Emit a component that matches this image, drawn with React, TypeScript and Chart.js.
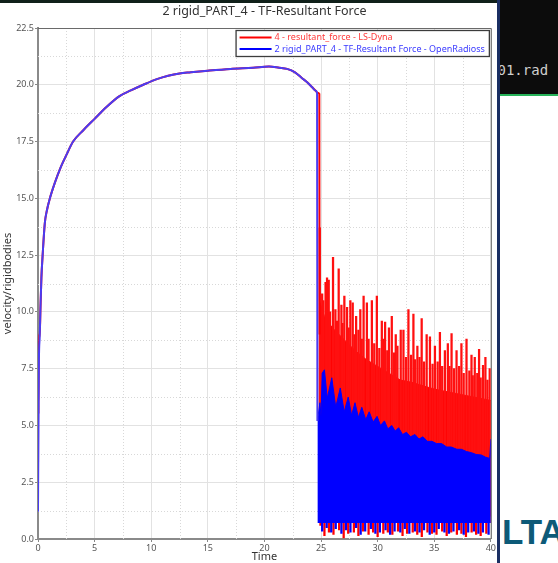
import React, { useEffect, useRef } from 'react';
import { Chart, registerables } from 'chart.js';

Chart.register(...registerables);

const FAMILY = "'Noto Sans', 'DejaVu Sans', sans-serif";

const TITLE = '2 rigid_PART_4 - TF-Resultant Force';
const X_TITLE = 'Time';
const Y_TITLE = 'velocity/rigidbodies';
const SERIES_NAMES = ['4 - resultant_force - LS-Dyna', '2 rigid_PART_4 - TF-Resultant Force - OpenRadioss'];

const X_TICKS = [0, 5, 10, 15, 20, 25, 30, 35, 40];
const X_MINOR = [2.5, 7.5, 12.5, 17.5, 22.5, 27.5, 32.5, 37.5];
const Y_TICKS = [0, 2.5, 5, 7.5, 10, 12.5, 15, 17.5, 20, 22.5];
const Y_MINOR = [1.25, 3.75, 6.25, 8.75, 11.25, 13.75, 16.25, 18.75, 21.25];

// Loading phase – OpenRadioss (blue)
const blueRampT = [0, 0.03, 0.08, 0.15, 0.22, 0.3, 0.41, 0.6, 0.8, 1.05, 1.5, 1.95, 2.5, 3.1, 4.0, 5.0, 6.0, 7.2, 8.2, 9.3, 10.5, 11.5, 12.5, 13.5, 15.0, 17.0, 19.0, 20.4, 21.3, 22.0, 22.7, 23.3, 23.8, 24.2, 24.5, 24.65, 24.68];
const blueRampV = [1.2, 4.0, 7.8, 8.9, 10.2, 11.5, 12.5, 13.9, 14.5, 15.0, 15.7, 16.3, 16.9, 17.5, 18.0, 18.5, 19.0, 19.5, 19.75, 20.0, 20.25, 20.4, 20.5, 20.55, 20.62, 20.7, 20.75, 20.8, 20.75, 20.7, 20.55, 20.3, 20.1, 19.9, 19.75, 19.65, 5.2];

// Loading phase – LS-Dyna (red)
const redRampT = [0, 0.015, 0.04, 0.08, 0.15, 0.22, 0.3, 0.41, 0.6, 0.8, 1.05, 1.5, 1.95, 2.5, 3.1, 4.0, 5.0, 6.0, 7.2, 8.2, 9.3, 10.5, 11.5, 12.5, 13.5, 15.0, 17.0, 19.0, 20.4, 21.3, 22.0, 22.7, 23.3, 23.8, 24.2, 24.5, 24.7, 24.85, 24.87];
const redRampV = [1.3, 7.8, 5.5, 9.0, 8.9, 10.2, 11.5, 12.5, 13.9, 14.5, 15.0, 15.7, 16.3, 16.9, 17.5, 18.0, 18.5, 19.0, 19.5, 19.75, 20.0, 20.25, 20.4, 20.5, 20.55, 20.62, 20.7, 20.75, 20.8, 20.75, 20.7, 20.55, 20.3, 20.1, 19.9, 19.75, 19.65, 19.6, 9.0];

// Unloading phase – upper edge of the dense blue oscillation
const blueBandT = [24.68, 24.9, 25.0, 25.1, 25.3, 25.55, 25.95, 26.3, 26.7, 27.05, 27.4, 27.7, 28.0, 28.3, 28.6, 28.95, 29.25, 29.6, 29.95, 30.25, 30.6, 30.9, 31.25, 31.55, 31.85, 32.2, 32.55, 32.9, 33.3, 33.65, 34.0, 34.4, 34.8, 35.2, 35.65, 36.1, 36.5, 37.0, 37.4, 37.85, 38.3, 38.7, 39.15, 39.55, 39.9, 40.0];
const blueBandV = [5.2, 6.0, 5.4, 7.3, 7.45, 6.2, 7.1, 5.8, 6.65, 5.6, 6.25, 5.45, 6.0, 5.35, 5.8, 5.25, 5.6, 5.15, 5.4, 5.0, 5.2, 4.85, 5.0, 4.75, 4.9, 4.6, 4.7, 4.5, 4.6, 4.4, 4.5, 4.3, 4.3, 4.2, 4.2, 4.05, 4.05, 3.95, 3.95, 3.85, 3.8, 3.72, 3.7, 3.6, 3.55, 4.4];

// Unloading phase – upper edge of the solid red oscillation
const redBandT = [24.86, 25.3, 26, 27, 28, 29, 30, 31, 32, 33, 34, 35, 36, 37, 38, 39, 40];
const redBandV = [10.5, 9.8, 9.3, 8.8, 8.3, 7.9, 7.6, 7.3, 7.0, 6.9, 6.75, 6.6, 6.5, 6.4, 6.3, 6.2, 6.1];

// Red oscillation peaks
const redSpikeT = [24.89, 25.1, 25.2, 25.4, 25.53, 25.68, 25.8, 26.06, 26.27, 26.4, 26.56, 26.8, 26.9, 27.06, 27.3, 27.45, 27.59, 27.8, 27.95, 28.1, 28.3, 28.47, 28.6, 28.76, 29.05, 29.2, 29.49, 29.7, 29.93, 30.15, 30.37, 30.5, 30.66, 30.85, 31.0, 31.25, 31.45, 31.6, 31.75, 32.04, 32.28, 32.5, 32.72, 32.95, 33.16, 33.3, 33.51, 33.7, 33.89, 34.1, 34.33, 34.62, 34.85, 35.06, 35.3, 35.5, 35.7, 35.94, 36.2, 36.35, 36.53, 36.75, 36.97, 37.2, 37.4, 37.6, 37.85, 38.1, 38.29, 38.4, 38.58, 38.8, 38.96, 39.1, 39.31, 39.52, 39.7, 39.9];
const redSpikeV = [13.7, 10.8, 10.5, 11.3, 11.5, 11.4, 10.0, 12.4, 10.1, 9.6, 11.9, 10.3, 9.5, 10.7, 10.2, 9.3, 10.5, 10.4, 9.0, 9.8, 9.2, 10.1, 8.8, 10.7, 10.4, 8.8, 10.5, 8.6, 10.7, 8.4, 9.6, 8.8, 9.55, 8.3, 9.3, 9.8, 8.2, 9.0, 8.5, 9.2, 9.2, 8.0, 10.1, 8.1, 9.9, 7.9, 8.5, 8.0, 9.7, 7.8, 9.0, 8.9, 7.7, 8.5, 7.8, 9.1, 7.6, 8.3, 8.6, 7.6, 9.05, 7.5, 8.3, 7.6, 8.6, 7.3, 8.8, 7.4, 8.1, 7.2, 8.0, 7.3, 8.35, 7.1, 7.65, 8.0, 7.0, 7.5];
const SPIKE_BASE = 1.0;

// Troughs of the oscillation near zero
const blueLowT = [25.1, 25.5, 25.9, 26.3, 26.8, 27.2, 27.6, 28.1, 28.5, 28.9, 29.4, 29.8, 30.2, 30.7, 31.1, 31.5, 32.0, 32.4, 32.8, 33.3, 33.7, 34.1, 34.6, 35.0, 35.4, 35.9, 36.3, 36.7, 37.2, 37.6, 38.0, 38.5, 38.9, 39.3, 39.8];
const blueLowV = [0.35, 0.5, 0.3, 0.45, 0.25, 0.4, 0.3, 0.5, 0.2, 0.35, 0.45, 0.25, 0.3, 0.4, 0.2, 0.35, 0.3, 0.45, 0.25, 0.35, 0.3, 0.4, 0.2, 0.3, 0.45, 0.3, 0.25, 0.35, 0.4, 0.2, 0.3, 0.35, 0.25, 0.3, 0.2];
const redLowT = [24.95, 25.3, 25.7, 26.1, 26.6, 27.0, 27.4, 27.9, 28.3, 28.7, 29.2, 29.6, 30.0, 30.5, 30.9, 31.3, 31.8, 32.2, 32.6, 33.1, 33.5, 33.9, 34.4, 34.8, 35.2, 35.7, 36.1, 36.5, 37.0, 37.4, 37.8, 38.3, 38.7, 39.1, 39.6];
const redLowV = [0.6, 0.15, 0.3, 0.2, 0.4, 0.05, 0.25, 0.3, 0.15, 0.35, 0.2, 0.3, 0.1, 0.25, 0.3, 0.2, 0.35, 0.15, 0.25, 0.3, 0.2, 0.1, 0.3, 0.25, 0.2, 0.35, 0.15, 0.3, 0.2, 0.25, 0.1, 0.3, 0.2, 0.15, 0.25];
const LOW_TOP = 0.8;
const BAND_FLOOR = 0.7;

const RED = '#ff0000';
const BLUE = '#0000ff';

const pts = (ts: number[], vs: number[]) => ts.map((t, i) => ({ x: t, y: vs[i] }));

const decor = {
  id: 'decor',
  beforeDraw(chart: any) {
    const ctx = chart.ctx;
    ctx.save();
    ctx.fillStyle = '#ffffff';
    ctx.fillRect(0, 0, chart.width, chart.height);
    ctx.restore();
  },
  beforeDatasetsDraw(chart: any) {
    const { ctx, chartArea: a, scales } = chart;
    ctx.save();
    ctx.strokeStyle = '#d8d8d8';
    ctx.lineWidth = 1;
    ctx.setLineDash([1, 2]);
    X_MINOR.forEach((v) => {
      const px = Math.round(scales.x.getPixelForValue(v)) + 0.5;
      ctx.beginPath();
      ctx.moveTo(px, a.top);
      ctx.lineTo(px, a.bottom);
      ctx.stroke();
    });
    Y_MINOR.forEach((v) => {
      const py = Math.round(scales.y.getPixelForValue(v)) + 0.5;
      ctx.beginPath();
      ctx.moveTo(a.left, py);
      ctx.lineTo(a.right, py);
      ctx.stroke();
    });
    ctx.restore();
  },
  afterDatasetsDraw(chart: any) {
    const { ctx, chartArea: a } = chart;
    ctx.save();
    // frame top / right
    ctx.strokeStyle = '#6a6a6a';
    ctx.lineWidth = 1;
    ctx.beginPath();
    ctx.moveTo(a.left, a.top + 0.5);
    ctx.lineTo(a.right + 0.5, a.top + 0.5);
    ctx.lineTo(a.right + 0.5, a.bottom);
    ctx.stroke();

    // legend
    ctx.font = `9px ${FAMILY}`;
    const w = Math.max(...SERIES_NAMES.map((s) => ctx.measureText(s).width));
    const right = a.right - 1;
    const top = a.top + 2;
    const boxW = w + 44;
    const boxH = 27;
    const left = right - boxW;
    ctx.fillStyle = '#ffffff';
    ctx.fillRect(left, top, boxW, boxH);
    ctx.strokeStyle = '#3c3c3c';
    ctx.lineWidth = 1.3;
    ctx.strokeRect(left + 0.5, top + 0.5, boxW - 1, boxH - 1);
    const rows = [
      { y: top + 7.5, line: RED, text: '#ff3a3a' },
      { y: top + 19, line: BLUE, text: '#3a3aff' },
    ];
    rows.forEach((r, i) => {
      ctx.strokeStyle = r.line;
      ctx.lineWidth = 2;
      ctx.beginPath();
      ctx.moveTo(left + 4, r.y);
      ctx.lineTo(left + 36, r.y);
      ctx.stroke();
      ctx.fillStyle = r.text;
      ctx.textBaseline = 'middle';
      ctx.textAlign = 'left';
      ctx.fillText(SERIES_NAMES[i], left + 39, r.y);
    });

    // title
    ctx.fillStyle = '#333333';
    ctx.font = `12.5px ${FAMILY}`;
    ctx.textAlign = 'center';
    ctx.textBaseline = 'middle';
    ctx.fillText(TITLE, (a.left + a.right) / 2, 11);
    ctx.restore();
  },
};

export default function App() {
  const ref = useRef<HTMLCanvasElement | null>(null);

  useEffect(() => {
    if (!ref.current) return;
    const lineBase = { type: 'line' as const, pointRadius: 0, tension: 0, fill: false };
    const barBase = { type: 'bar' as const, barThickness: 1.6, grouped: false, borderWidth: 0 };

    const chart = new Chart(ref.current, {
      type: 'line',
      data: {
        datasets: [
          { ...lineBase, label: 'blueRamp', data: pts(blueRampT, blueRampV), borderColor: '#4a3cf2', borderWidth: 2, cubicInterpolationMode: 'monotone', order: 0 },
          { ...lineBase, label: 'blueBand', data: pts(blueBandT, blueBandV), borderColor: BLUE, backgroundColor: BLUE, borderWidth: 1, fill: { value: BAND_FLOOR }, order: 1 },
          { ...barBase, label: 'blueLow', data: blueLowT.map((t, i) => ({ x: t, y: [blueLowV[i], LOW_TOP] })), backgroundColor: BLUE, order: 2 },
          { ...lineBase, label: 'redRamp', data: pts(redRampT, redRampV), borderColor: RED, borderWidth: 2, cubicInterpolationMode: 'monotone', order: 3 },
          { ...barBase, label: 'redSpikes', data: redSpikeT.map((t, i) => ({ x: t, y: [SPIKE_BASE, redSpikeV[i]] })), backgroundColor: '#ff1010', order: 4 },
          { ...lineBase, label: 'redBand', data: pts(redBandT, redBandV), borderColor: RED, backgroundColor: RED, borderWidth: 1, fill: { value: BAND_FLOOR }, order: 5 },
          { ...barBase, label: 'redLow', data: redLowT.map((t, i) => ({ x: t, y: [redLowV[i], LOW_TOP] })), backgroundColor: RED, order: 6 },
        ] as any,
      },
      options: {
        animation: false,
        responsive: false,
        events: [],
        layout: { padding: { top: 28, right: 5, left: 0, bottom: 0 } },
        plugins: { legend: { display: false }, tooltip: { enabled: false }, title: { display: false } },
        scales: {
          x: {
            type: 'linear',
            min: 0,
            max: 40,
            offset: false,
            afterBuildTicks: (s: any) => { s.ticks = X_TICKS.map((v) => ({ value: v })); },
            afterFit: (s: any) => { s.height = 24; },
            ticks: { font: { size: 9, family: FAMILY }, color: '#555555', padding: 1, maxRotation: 0, autoSkip: false, callback: (v: any) => String(v) },
            grid: { color: '#e2e2e2', lineWidth: 1, tickLength: 3, tickColor: '#888888', offset: false },
            border: { color: '#8a8a8a', width: 2 },
            title: { display: true, text: X_TITLE, font: { size: 11, family: FAMILY }, color: '#333333', padding: { top: 0, bottom: 0 } },
          },
          y: {
            type: 'linear',
            min: 0,
            max: 22.5,
            afterBuildTicks: (s: any) => { s.ticks = Y_TICKS.map((v) => ({ value: v })); },
            afterFit: (s: any) => { s.width = 38; },
            ticks: { font: { size: 9, family: FAMILY }, color: '#555555', padding: 1, autoSkip: false, callback: (v: any) => Number(v).toFixed(1) },
            grid: { color: '#e2e2e2', lineWidth: 1, tickLength: 3, tickColor: '#888888' },
            border: { color: '#8a8a8a', width: 2 },
            title: { display: true, text: Y_TITLE, font: { size: 11, family: FAMILY }, color: '#333333', padding: { top: 1, bottom: 0 } },
          },
        },
      } as any,
      plugins: [decor],
    });
    return () => chart.destroy();
  }, []);

  return (
    <div style={{ position: 'fixed', left: 0, top: 0, width: 558, height: 563, overflow: 'hidden', background: '#ffffff' }}>
      <canvas ref={ref} width={497} height={563} style={{ position: 'absolute', left: 0, top: 0, width: 497, height: 563 }} />
      <div style={{ position: 'absolute', left: 0, top: 0, width: 558, height: 3, background: '#10201a' }} />
      <div style={{ position: 'absolute', left: 497, top: 0, width: 3, height: 563, background: '#1b2f63' }} />
      <div style={{ position: 'absolute', left: 500, top: 0, width: 58, height: 94, background: '#0c0c0c', overflow: 'hidden' }}>
        <span style={{ position: 'absolute', left: -2.5, top: 62, font: '14px "DejaVu Sans Mono", monospace', color: '#cfcfcf', whiteSpace: 'pre' }}>01.rad</span>
      </div>
      <div style={{ position: 'absolute', left: 500, top: 94, width: 58, height: 2, background: '#27b35a' }} />
      <div style={{ position: 'absolute', left: 502, top: 512, font: 'bold 35px "Liberation Sans", Arial, sans-serif', color: '#0d5a78', whiteSpace: 'pre', lineHeight: '40px' }}>LTA</div>
    </div>
  );
}
